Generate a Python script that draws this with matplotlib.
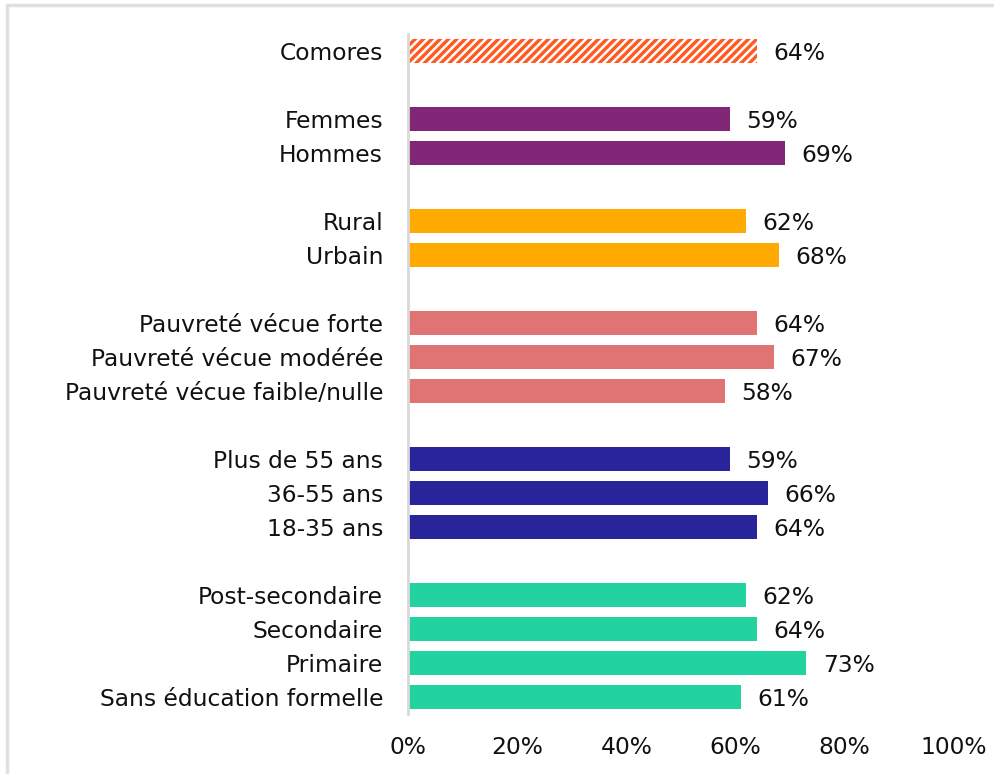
import numpy as np
import matplotlib.pyplot as plt
from matplotlib.patches import Rectangle

plt.rcParams['font.family'] = ['DejaVu Sans']
plt.rcParams['hatch.linewidth'] = 1.8

# data, top to bottom (None = empty slot between groups)
labels = ["Comores", None,
          "Femmes", "Hommes", None,
          "Rural", "Urbain", None,
          "Pauvreté vécue forte", "Pauvreté vécue modérée", "Pauvreté vécue faible/nulle", None,
          "Plus de 55 ans", "36-55 ans", "18-35 ans", None,
          "Post-secondaire", "Secondaire", "Primaire", "Sans éducation formelle"]
values = [64, None,
          59, 69, None,
          62, 68, None,
          64, 67, 58, None,
          59, 66, 64, None,
          62, 64, 73, 61]
groups = [0, None, 1, 1, None, 2, 2, None, 3, 3, 3, None, 4, 4, 4, None, 5, 5, 5, 5]
colors = ["#FF5A22", "#822777", "#FFAA00", "#E07474", "#28249A", "#22D3A1"]

fs = 16.8

fig = plt.figure(figsize=(9.94, 7.74), dpi=100)
ax = fig.add_axes([0.4105, 0.0775, 0.549, 0.8785])

# light frame round the chart (top and left visible)
fig.patches.append(Rectangle((0.007, -0.05), 1.1, 1.0435, transform=fig.transFigure,
                             fill=False, edgecolor="#e0e0e0", linewidth=2.5))

pos = []
for i, (lab, v, g) in enumerate(zip(labels, values, groups)):
    if v is None:
        continue
    pos.append(i)
    if g == 0:
        ax.barh(i, v, height=0.68, color=colors[g], edgecolor="white", hatch="////", linewidth=0)
    else:
        ax.barh(i, v, height=0.68, color=colors[g], linewidth=0)
    ax.text(v + 3.0, i + 0.08, f"{v}%", va="center", ha="left", fontsize=fs, color="#111111")

ax.set_yticks(pos)
ax.set_yticklabels([labels[i] for i in pos], fontsize=fs, color="#111111")
ax.set_ylim(19.5, -0.5)
ax.set_xlim(0, 100)
ax.set_xticks(np.arange(0, 101, 20))
ax.set_xticklabels([f"{t}%" for t in range(0, 101, 20)], fontsize=fs, color="#111111")
ax.tick_params(axis="y", length=0, pad=18)
ax.tick_params(axis="x", length=0, pad=16)

for s in ["top", "right", "bottom"]:
    ax.spines[s].set_visible(False)
ax.spines["left"].set_color("#d9d9d9")
ax.spines["left"].set_linewidth(2)

fig.savefig("out.png", dpi=100)
